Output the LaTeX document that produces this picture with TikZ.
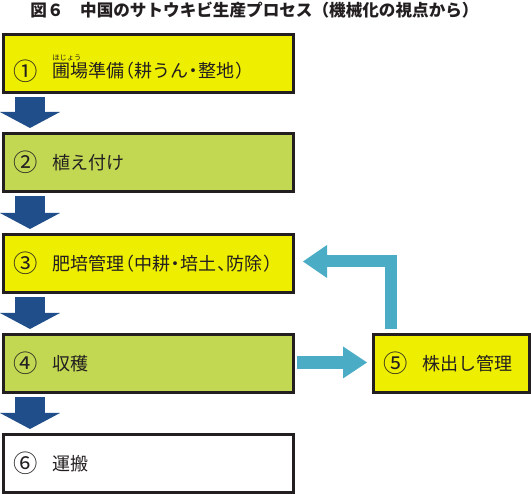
\documentclass[tikz,border=0pt]{standalone}
\usepackage{fontspec}
\usepackage{graphicx}
\setmainfont{Noto Sans CJK JP}
\newfontfamily\jph[RawFeature=+halt]{Noto Sans CJK JP}
\usetikzlibrary{arrows.meta,calc}
\definecolor{ylw}{HTML}{EEEE00}
\definecolor{grn}{HTML}{C2D852}
\definecolor{dblue}{HTML}{1F4E8A}
\definecolor{lblue}{HTML}{4BACC6}
\definecolor{ink}{HTML}{231F20}
\newcommand\hw[1]{\kern.03em{\jph #1}\kern.03em}
\newcommand\cn[1]{\makebox[1em][c]{\raisebox{-.13em}{\scalebox{1.35}{#1}}}}
\newcommand\bt[3][0pt]{\makebox[#2][l]{\raisebox{\dimexpr-6.8pt-#1\relax}{#3}}}
\begin{document}
\begin{tikzpicture}[x=1pt,y=-1pt,
  stepbox/.style={draw=ink, line width=3pt, minimum width=290pt, minimum height=58pt,
    inner xsep=13pt, inner ysep=0pt, text height=0pt, text depth=0pt,
    font=\fontsize{18pt}{18pt}\selectfont, text=ink},
  down/.style={draw=dblue, line width=30pt,
    -{Triangle[length=16pt,width=60pt,line width=0pt]}},
  side/.style={draw=lblue, line width=13pt, line join=miter,
    -{Triangle[length=24pt,width=32pt,line width=0pt]}}
]
\useasboundingbox (0,0) rectangle (531,494);
\node[font=\fontsize{16.6pt}{16.6pt}\selectfont\bfseries, text=ink] (title) at (254.5,10.3)
  {図６　中国のサトウキビ生産プロセス（機械化の視点から）};
\node[stepbox, fill=ylw] (b1) at (148.5,63.5)
  {\bt[7.5pt]{264pt}{\cn{①}　\rlap{\raisebox{17pt}{\fontsize{7.2pt}{7.2pt}\selectfont ほじょう}}圃場準備\hw{（}耕うん\hw{・}整地\hw{）}}};
\node[stepbox, fill=grn] (b2) at (148.5,162.5) {\bt{264pt}{\cn{②}　植え付け}};
\node[stepbox, fill=ylw] (b3) at (148.5,263.5)
  {\bt{264pt}{\cn{③}　肥培管理\hw{（}中耕\hw{・}培土\hw{、}防除\hw{）}}};
\node[stepbox, fill=grn] (b4) at (148.5,363.5) {\bt{264pt}{\cn{④}　収穫}};
\node[stepbox, fill=ylw, minimum width=156pt] (b5) at (451.5,363.5) {\bt{130pt}{\cn{⑤}　株出し管理}};
\node[stepbox, fill=white] (b6) at (148.5,463.5) {\bt{264pt}{\cn{⑥}　運搬}};
\foreach \a/\b in {b1/b2,b2/b3,b3/b4,b4/b6}
  \draw[down] ($(\a.south west)+(28,3)$) -- ($(\b.north west)+(28,-4)$);
\draw[side] ($(b4.east)+(2,-1)$) -- ($(b5.west)+(-5,-1)$);
\draw[side, line width=12pt, -{Triangle[length=24pt,width=33pt,line width=0pt]}]
  ($(b5.north)+(-60.5,-4)$) |- ($(b3.east)+(8,-2)$);
\end{tikzpicture}
\end{document}
